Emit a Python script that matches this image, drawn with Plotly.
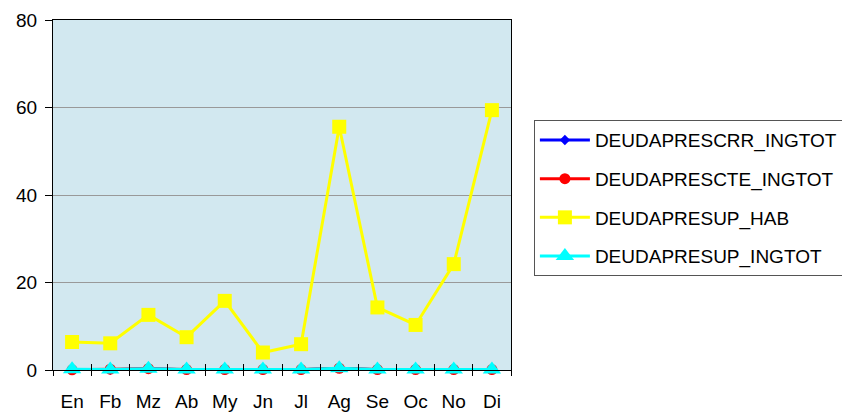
import plotly.graph_objects as go

months = ["En", "Fb", "Mz", "Ab", "My", "Jn", "Jl", "Ag", "Se", "Oc", "No", "Di"]
crr_ingtot = [0.1, 0.05, 0.3, 0.05, 0.05, 0.05, 0.05, 0.4, 0.05, 0.05, 0.05, 0.05]
cte_ingtot = [0.05, 0.2, 0.3, 0.1, 0.1, 0.1, 0.1, 0.4, 0.1, 0.1, 0.1, 0.1]
sup_hab = [6.4, 6.1, 12.6, 7.5, 15.8, 4.0, 5.9, 55.6, 14.3, 10.3, 24.2, 59.4]
sup_ingtot = [0.2, 0.1, 0.3, 0.1, 0.1, 0.1, 0.1, 0.4, 0.1, 0.1, 0.1, 0.1]

FONT = "Liberation Sans, Arial, sans-serif"

fig = go.Figure()
series = [
    ("DEUDAPRESCRR_INGTOT", crr_ingtot, "#0000FF", "diamond", 8),
    ("DEUDAPRESCTE_INGTOT", cte_ingtot, "#FF0000", "circle", 11),
    ("DEUDAPRESUP_HAB", sup_hab, "#FFFF00", "square", 14),
    ("DEUDAPRESUP_INGTOT", sup_ingtot, "#00FFFF", "triangle-up", 16),
]
for i, (name, vals, col, sym, sz) in enumerate(series):
    fig.add_trace(go.Scatter(
        x=months, y=vals, name=name, mode="lines+markers",
        line=dict(color=col, width=3),
        marker=dict(color=col, symbol=sym, size=sz, line=dict(width=0)),
        legendgroup=f"g{i}", cliponaxis=False,
    ))

# overlay axis for inside half of crossing ticks
fig.add_trace(go.Scatter(x=months, y=[None]*12, xaxis="x2", showlegend=False, hoverinfo="skip"))

fig.update_layout(
    width=842, height=412,
    margin=dict(l=53, r=331, t=20, b=42, autoexpand=False),
    paper_bgcolor="white",
    plot_bgcolor="#D2E8F0",
    font=dict(family=FONT, size=19, color="black"),
    showlegend=True,
    legend=dict(
        x=1.050, y=0.714, xanchor="left", yanchor="top",
        bgcolor="white", bordercolor="#555555", borderwidth=1,
        font=dict(family=FONT, size=19, color="black"),
        tracegroupgap=11, itemwidth=50,
    ),
    xaxis=dict(
        type="category", range=[-0.5, 11.5],
        showline=True, linecolor="black", linewidth=1, mirror=True,
        showgrid=False, zeroline=False,
        ticks="outside", ticklen=5, tickcolor="black", tickson="boundaries",
        ticklabelstandoff=14,
        tickfont=dict(family=FONT, size=19, color="black"),
    ),
    xaxis2=dict(
        type="category", range=[-0.5, 11.5], overlaying="x", matches="x",
        showline=False, showgrid=False, zeroline=False,
        ticks="inside", ticklen=6, tickcolor="black", tickson="boundaries",
        showticklabels=False, side="bottom",
    ),
    yaxis=dict(
        range=[0, 80], dtick=20,
        showline=True, linecolor="black", linewidth=1, mirror=True,
        showgrid=True, gridcolor="#999999", gridwidth=1,
        zeroline=False,
        ticks="outside", ticklen=7, tickcolor="black",
        ticklabelstandoff=4,
        tickfont=dict(family=FONT, size=19, color="black"),
    ),
)

fig.write_html("out.html", config={"displayModeBar": False},
               post_script="document.body.style.margin='0';document.body.style.overflow='hidden';")
